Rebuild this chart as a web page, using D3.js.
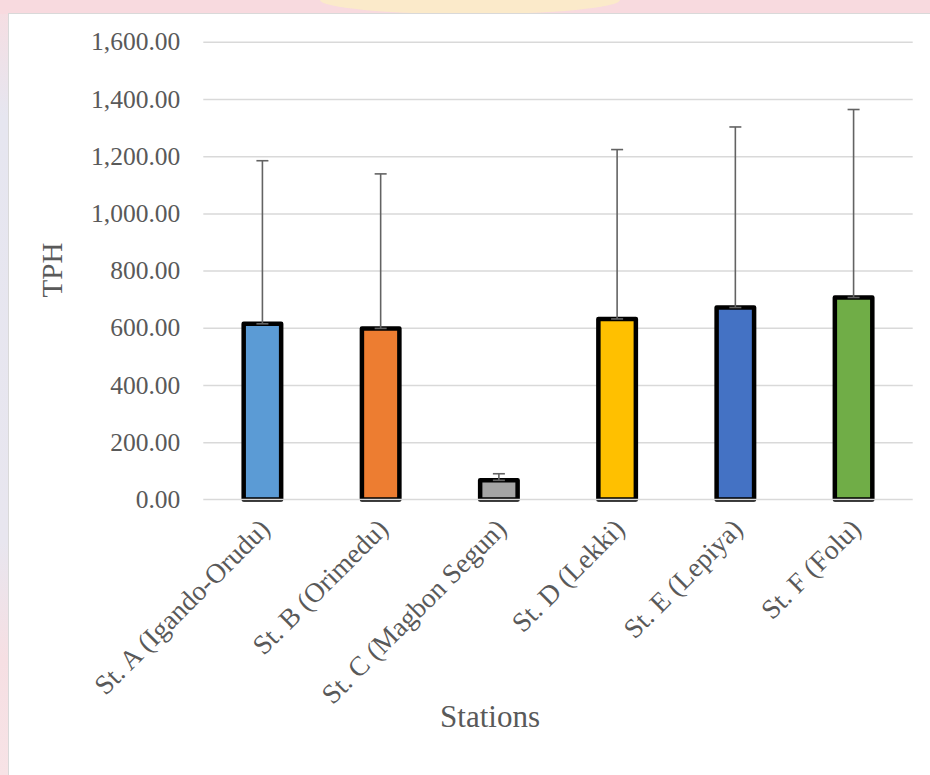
<!DOCTYPE html>
<html>
<head>
<meta charset="utf-8">
<script src="https://cdn.jsdelivr.net/npm/d3@7"></script>
<style>
  html, body { margin: 0; padding: 0; background: #ffffff; }
  svg { display: block; }
  text { font-family: "Liberation Serif", "Times New Roman", serif; fill: #595959; }
</style>
</head>
<body>
<svg id="chart" width="930" height="775"></svg>
<script>
// ---- data ----
const stations = ["St. A (Igando-Orudu)", "St. B (Orimedu)", "St. C (Magbon Segun)", "St. D (Lekki)", "St. E (Lepiya)", "St. F (Folu)"];
const meanTPH = [614, 598, 67, 631, 671, 706];
const plusError = [570, 540, 23, 592, 631, 657];
const barColors = ["#5B9BD5", "#ED7D31", "#A5A5A5", "#FFC000", "#4472C4", "#70AD47"];
const yTicks = [0, 200, 400, 600, 800, 1000, 1200, 1400, 1600];
const yTitle = "TPH";
const xTitle = "Stations";

const W = 930, H = 775;
const svg = d3.select("#chart");

// page background (watermark tint around chart box)
const defs = svg.append("defs");
const lg = defs.append("linearGradient").attr("id", "leftTint").attr("x1", 0).attr("y1", 0).attr("x2", 0).attr("y2", 1);
lg.append("stop").attr("offset", "0%").attr("stop-color", "#f7dde1");
lg.append("stop").attr("offset", "15%").attr("stop-color", "#e6e6f0");
lg.append("stop").attr("offset", "70%").attr("stop-color", "#e8e6ef");
lg.append("stop").attr("offset", "85%").attr("stop-color", "#f6dfe3");
lg.append("stop").attr("offset", "100%").attr("stop-color", "#f7e3e6");
svg.append("rect").attr("x", 0).attr("y", 0).attr("width", W).attr("height", H).attr("fill", "url(#leftTint)");
svg.append("rect").attr("x", 0).attr("y", 0).attr("width", W).attr("height", 14).attr("fill", "#f8dadf");
svg.append("ellipse").attr("cx", 470).attr("cy", 0).attr("rx", 150).attr("ry", 14).attr("fill", "#fbeec4").attr("opacity", 0.8);

// chart box
svg.append("rect").attr("x", 8.5).attr("y", 13.5).attr("width", W).attr("height", H)
  .attr("fill", "#ffffff").attr("stroke", "#d9d9d9").attr("stroke-width", 1);

// scales
const x = d3.scaleBand().domain(stations).range([203.3, 912.7]).paddingInner(0.683).paddingOuter(0.3415);
const y = d3.scaleLinear().domain([0, 1600]).range([499.5, 41.7]);
const fmt = d3.format(",.2f");

// gridlines (non-zero) below bars
const yAxis = d3.axisLeft(y).tickValues(yTicks).tickFormat(fmt).tickSize(0).tickPadding(23);
const gy = svg.append("g").attr("transform", "translate(203.3,0)").call(yAxis);
gy.select(".domain").remove();
gy.selectAll(".tick text").attr("font-size", 25.5).attr("fill", "#595959")
  .style("font-family", "'Liberation Serif', serif");
gy.selectAll(".tick").append("line")
  .attr("x1", 0).attr("x2", 912.7 - 203.3)
  .attr("stroke", "#d9d9d9").attr("stroke-width", 1.5)
  .attr("opacity", d => d === 0 ? 0 : 1);

// bars
const data = stations.map((s, i) => ({ s, v: meanTPH[i], e: plusError[i], c: barColors[i] }));
svg.append("g").selectAll("rect").data(data).join("rect")
  .attr("x", d => x(d.s))
  .attr("y", d => y(d.v))
  .attr("width", x.bandwidth())
  .attr("height", d => y(0) - y(d.v))
  .attr("fill", d => d.c)
  .attr("stroke", "#000000")
  .attr("stroke-width", 4.5)
  .attr("stroke-linejoin", "round");

// zero baseline over bars
svg.append("line").attr("x1", 203.3).attr("x2", 912.7).attr("y1", y(0)).attr("y2", y(0))
  .attr("stroke", "#d9d9d9").attr("stroke-width", 1.5);

// error bars (plus)
const eg = svg.append("g").attr("stroke", "#636363").attr("stroke-width", 1.6);
data.forEach(d => {
  const cx = x(d.s) + x.bandwidth() / 2;
  eg.append("line").attr("x1", cx).attr("x2", cx).attr("y1", y(d.v)).attr("y2", y(d.v + d.e));
  eg.append("line").attr("x1", cx - 6).attr("x2", cx + 6).attr("y1", y(d.v + d.e)).attr("y2", y(d.v + d.e));
  eg.append("line").attr("x1", cx - 6).attr("x2", cx + 6).attr("y1", y(d.v)).attr("y2", y(d.v));
});

// x tick labels rotated -45
const xAxis = d3.axisBottom(x).tickSize(0).tickPadding(0);
const gx = svg.append("g").attr("transform", `translate(0,${y(0)})`).call(xAxis);
gx.select(".domain").remove();
gx.selectAll(".tick text")
  .attr("font-size", 27.5)
  .attr("fill", "#595959")
  .style("font-family", "'Liberation Serif', serif")
  .attr("text-anchor", "end")
  .attr("dy", null)
  .attr("y", null)
  .attr("transform", "translate(9,31) rotate(-45)");

// axis titles
svg.append("text").attr("transform", "translate(62,270) rotate(-90)")
  .attr("text-anchor", "middle").attr("font-size", 29).text(yTitle);
svg.append("text").attr("x", 490).attr("y", 727)
  .attr("text-anchor", "middle").attr("font-size", 31).text(xTitle);
</script>
</body>
</html>
